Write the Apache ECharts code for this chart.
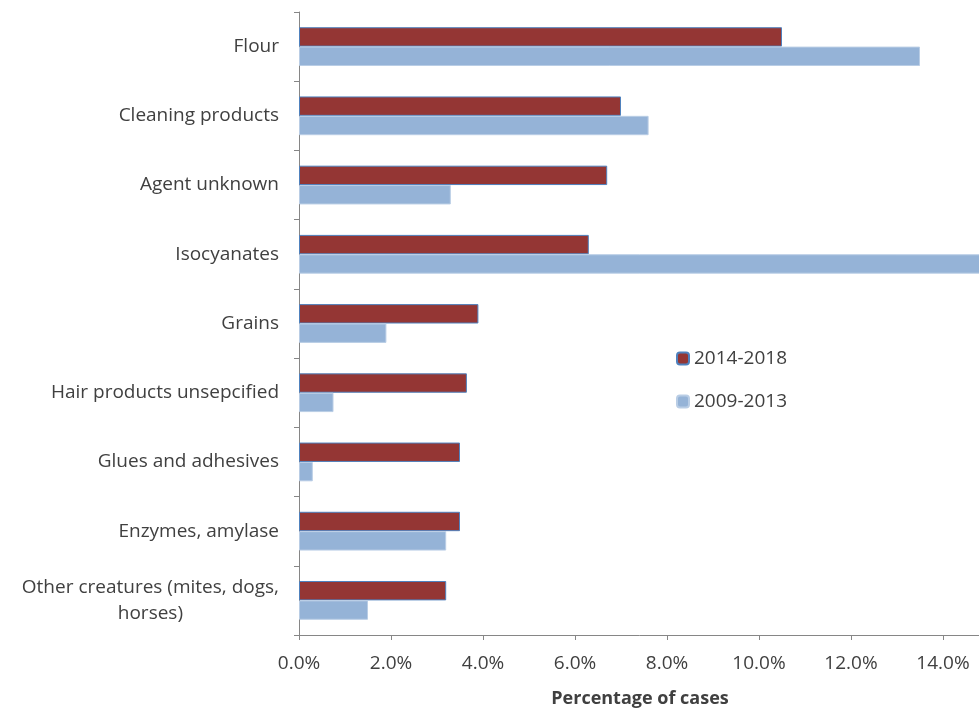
<!DOCTYPE html>
<html>
<head>
<meta charset="utf-8">
<script src="https://cdn.jsdelivr.net/npm/echarts@6/dist/echarts.min.js"></script>
<style>
  html, body { margin: 0; padding: 0; background: #ffffff; }
  #chart { width: 979px; height: 712px; }
</style>
</head>
<body>
<div id="chart"></div>
<script>
// Occupational asthma agents, share of cases by period (%)
const categories = [
  'Flour',
  'Cleaning products',
  'Agent unknown',
  'Isocyanates',
  'Grains',
  'Hair products unsepcified',
  'Glues and adhesives',
  'Enzymes, amylase',
  'Other creatures (mites, dogs,\nhorses)'
];
const period2014_2018 = [10.5, 7.0, 6.7, 6.3, 3.9, 3.65, 3.5, 3.5, 3.2];
const period2009_2013 = [13.5, 7.6, 3.3, 15.3, 1.9, 0.75, 0.3, 3.2, 1.5];
const xTicks = [0, 2, 4, 6, 8, 10, 12, 14];

const FONT = '"Open Sans", Lato, sans-serif';
const TEXT = '#404040';
const AXIS = '#868686';

const chart = echarts.init(document.getElementById('chart'));
chart.setOption({
  animation: false,
  backgroundColor: '#ffffff',
  grid: { left: 299, top: 12, width: 690, height: 623, outerBoundsMode: 'none', containLabel: false },
  legend: {
    orient: 'vertical',
    left: 671,
    top: 344,
    itemWidth: 12,
    itemHeight: 12,
    itemGap: 24,
    textStyle: { fontFamily: FONT, fontSize: 19, color: TEXT },
    data: ['2014-2018', '2009-2013']
  },
  xAxis: {
    type: 'value',
    min: 0,
    max: 15,
    interval: 2,
    name: 'Percentage of cases',
    nameLocation: 'middle',
    nameGap: 55,
    nameTextStyle: { fontFamily: FONT, fontSize: 18, fontWeight: 'bold', color: TEXT, padding: [0, 8, 0, 0] },
    axisLine: { show: true, lineStyle: { color: AXIS, width: 1 } },
    axisTick: { show: true, length: 5, lineStyle: { color: AXIS } },
    splitLine: { show: false },
    axisLabel: {
      margin: 19,
      fontFamily: FONT,
      fontSize: 19,
      color: TEXT,
      formatter: v => (xTicks.indexOf(v) >= 0 ? v.toFixed(1) + '%' : '')
    }
  },
  yAxis: {
    type: 'category',
    inverse: true,
    data: categories,
    axisLine: { show: true, lineStyle: { color: AXIS, width: 1 } },
    axisTick: { show: true, length: 5, lineStyle: { color: AXIS } },
    axisLabel: {
      margin: 20,
      fontFamily: FONT,
      fontSize: 19,
      color: TEXT,
      lineHeight: 26,
      formatter: v => v.split('\n').map(s => '{c|' + s + '}').join('\n'),
      rich: { c: { align: 'center', fontFamily: FONT, fontSize: 19, color: TEXT, lineHeight: 26 } }
    }
  },
  series: [
    {
      name: '2014-2018',
      type: 'bar',
      data: period2014_2018,
      barGap: '0%',
      barCategoryGap: '44%',
      itemStyle: { color: '#943634', borderColor: '#4F81BD', borderWidth: 1 }
    },
    {
      name: '2009-2013',
      type: 'bar',
      data: period2009_2013,
      barGap: '0%',
      barCategoryGap: '44%',
      itemStyle: { color: '#95B3D7', borderColor: '#B9CDE5', borderWidth: 1 }
    }
  ]
});
</script>
</body>
</html>
